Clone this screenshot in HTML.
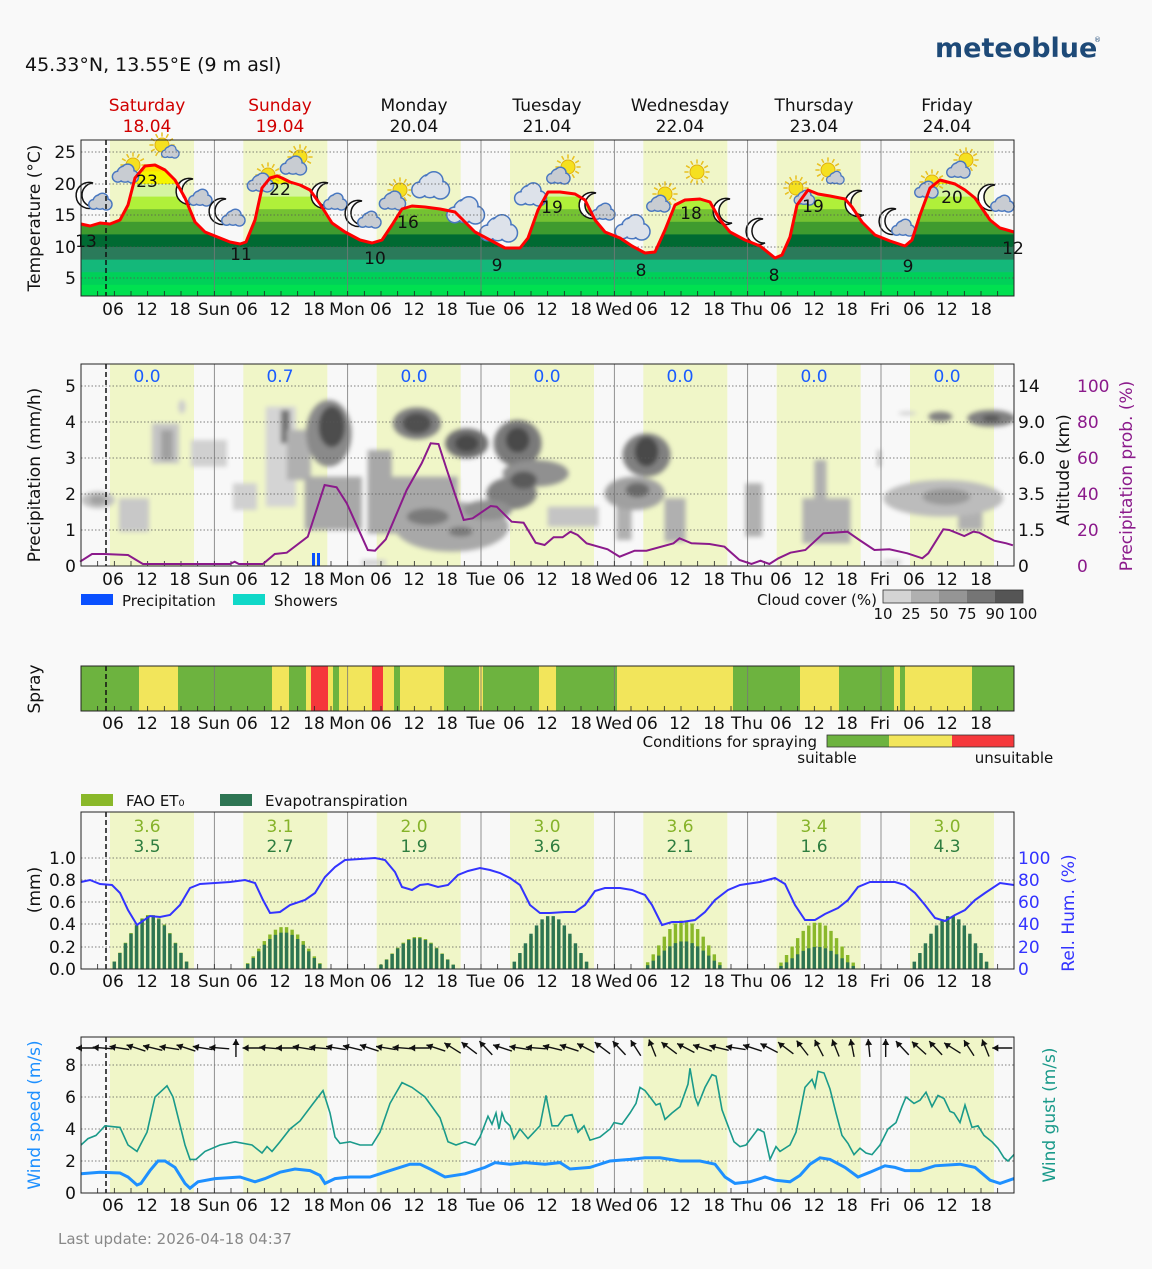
<!DOCTYPE html>
<html><head><meta charset="utf-8"><style>
html,body{margin:0;padding:0;background:#f9f9f9;}
svg{display:block;font-family:"DejaVu Sans","Liberation Sans",sans-serif;}
text{fill:#111;}
</style></head><body>
<svg id="s" width="1152" height="1269" viewBox="0 0 1152 1269" xmlns="http://www.w3.org/2000/svg">
<defs>
<filter id="bl" x="-20%" y="-20%" width="140%" height="140%"><feGaussianBlur stdDeviation="2.5"/></filter>
<clipPath id="tclip"><polygon id="tpoly" points=""/></clipPath>
<clipPath id="p2clip"><rect x="81" y="364" width="933" height="202"/></clipPath>
</defs>
<rect width="1152" height="1269" fill="#f9f9f9"/>
<text x="25" y="71" font-size="19">45.33°N, 13.55°E (9 m asl)</text>
<text x="935" y="57" font-size="27" font-weight="bold" style="fill:#1e4a78">meteoblue</text>
<text x="1094" y="42" font-size="7" style="fill:#1e4a78">®</text>
<g font-size="17" text-anchor="middle">
<text x="147" y="111" style="fill:#d00000">Saturday</text><text x="147" y="132" style="fill:#d00000">18.04</text>
<text x="280" y="111" style="fill:#d00000">Sunday</text><text x="280" y="132" style="fill:#d00000">19.04</text>
<text x="414" y="111">Monday</text><text x="414" y="132">20.04</text>
<text x="547" y="111">Tuesday</text><text x="547" y="132">21.04</text>
<text x="680" y="111">Wednesday</text><text x="680" y="132">22.04</text>
<text x="814" y="111">Thursday</text><text x="814" y="132">23.04</text>
<text x="947" y="111">Friday</text><text x="947" y="132">24.04</text>
</g>
<g id="bands"></g>
<g id="temp"></g>
<g id="icons"></g>
<g id="clouds" clip-path="url(#p2clip)"></g>
<g id="grid"></g>
<g id="series"></g>
<g font-size="17" text-anchor="middle">
<text x="86" y="247">13</text><text x="147" y="187">23</text><text x="241" y="260">11</text><text x="280" y="195">22</text>
<text x="375" y="264">10</text><text x="408" y="228">16</text><text x="497" y="271">9</text><text x="552" y="213">19</text>
<text x="641" y="276">8</text><text x="691" y="219">18</text><text x="774" y="281">8</text><text x="813" y="212">19</text>
<text x="908" y="272">9</text><text x="952" y="203">20</text><text x="1013" y="254">12</text>
</g>
<g font-size="17" text-anchor="end">
<text x="76" y="158">25</text><text x="76" y="190">20</text><text x="76" y="221">15</text><text x="76" y="253">10</text><text x="76" y="284">5</text>
<text x="76" y="572">0</text><text x="76" y="536">1</text><text x="76" y="500">2</text><text x="76" y="464">3</text><text x="76" y="428">4</text><text x="76" y="392">5</text>
<text x="76" y="975">0.0</text><text x="76" y="953">0.2</text><text x="76" y="930">0.4</text><text x="76" y="908">0.6</text><text x="76" y="886">0.8</text><text x="76" y="864">1.0</text>
<text x="76" y="1199">0</text><text x="76" y="1167">2</text><text x="76" y="1135">4</text><text x="76" y="1103">6</text><text x="76" y="1071">8</text>
</g>
<g font-size="17" text-anchor="start">
<text x="1018" y="392">14</text><text x="1018" y="428">9.0</text><text x="1018" y="464">6.0</text><text x="1018" y="500">3.5</text><text x="1018" y="536">1.5</text><text x="1018" y="572">0</text>
<text x="1077" y="392" style="fill:#8b1a8b">100</text><text x="1077" y="428" style="fill:#8b1a8b">80</text><text x="1077" y="464" style="fill:#8b1a8b">60</text><text x="1077" y="500" style="fill:#8b1a8b">40</text><text x="1077" y="536" style="fill:#8b1a8b">20</text><text x="1077" y="572" style="fill:#8b1a8b">0</text>
<text x="1018" y="864" style="fill:#3333ff">100</text><text x="1018" y="886" style="fill:#3333ff">80</text><text x="1018" y="908" style="fill:#3333ff">60</text><text x="1018" y="930" style="fill:#3333ff">40</text><text x="1018" y="953" style="fill:#3333ff">20</text><text x="1018" y="975" style="fill:#3333ff">0</text>
</g>
<g font-size="17" text-anchor="middle">
<text transform="translate(40,218) rotate(-90)">Temperature (°C)</text>
<text transform="translate(40,475) rotate(-90)">Precipitation (mm/h)</text>
<text transform="translate(1069,470) rotate(-90)">Altitude (km)</text>
<text transform="translate(1132,476) rotate(-90)" style="fill:#8b1a8b">Precipitation prob. (%)</text>
<text transform="translate(40,689) rotate(-90)">Spray</text>
<text transform="translate(40,890) rotate(-90)">(mm)</text>
<text transform="translate(1074,913) rotate(-90)" style="fill:#3333ff">Rel. Hum. (%)</text>
<text transform="translate(40,1115) rotate(-90)" style="fill:#1e90ff">Wind speed (m/s)</text>
<text transform="translate(1055,1115) rotate(-90)" style="fill:#1a9a8a">Wind gust (m/s)</text>
</g>
<g font-size="17" text-anchor="middle">
<text x="147" y="382" style="fill:#1a5cff">0.0</text><text x="280" y="382" style="fill:#1a5cff">0.7</text><text x="414" y="382" style="fill:#1a5cff">0.0</text><text x="547" y="382" style="fill:#1a5cff">0.0</text><text x="680" y="382" style="fill:#1a5cff">0.0</text><text x="814" y="382" style="fill:#1a5cff">0.0</text><text x="947" y="382" style="fill:#1a5cff">0.0</text>
</g>
<g font-size="17" text-anchor="middle">
<text x="147" y="832" style="fill:#86b32a">3.6</text><text x="280" y="832" style="fill:#86b32a">3.1</text><text x="414" y="832" style="fill:#86b32a">2.0</text><text x="547" y="832" style="fill:#86b32a">3.0</text><text x="680" y="832" style="fill:#86b32a">3.6</text><text x="814" y="832" style="fill:#86b32a">3.4</text><text x="947" y="832" style="fill:#86b32a">3.0</text>
<text x="147" y="852" style="fill:#2e7d3f">3.5</text><text x="280" y="852" style="fill:#2e7d3f">2.7</text><text x="414" y="852" style="fill:#2e7d3f">1.9</text><text x="547" y="852" style="fill:#2e7d3f">3.6</text><text x="680" y="852" style="fill:#2e7d3f">2.1</text><text x="814" y="852" style="fill:#2e7d3f">1.6</text><text x="947" y="852" style="fill:#2e7d3f">4.3</text>
</g>
<rect x="81" y="594" width="32" height="11" fill="#0a50ff"/><text x="122" y="606" font-size="15">Precipitation</text>
<rect x="233" y="594" width="32" height="11" fill="#10d8c8"/><text x="274" y="606" font-size="15">Showers</text>
<text x="877" y="605" font-size="15" text-anchor="end">Cloud cover (%)</text>
<rect x="883" y="590" width="28" height="13" fill="#d4d4d4"/><rect x="911" y="590" width="28" height="13" fill="#b0b0b0"/><rect x="939" y="590" width="28" height="13" fill="#959595"/><rect x="967" y="590" width="28" height="13" fill="#757575"/><rect x="995" y="590" width="28" height="13" fill="#555"/>
<rect x="883" y="590" width="140" height="13" fill="none" stroke="#333" stroke-width="0.8"/>
<g font-size="15" text-anchor="middle"><text x="883" y="619">10</text><text x="911" y="619">25</text><text x="939" y="619">50</text><text x="967" y="619">75</text><text x="995" y="619">90</text><text x="1023" y="619">100</text></g>
<text x="817" y="747" font-size="15" text-anchor="end">Conditions for spraying</text>
<rect x="827" y="735" width="62" height="12" fill="#6db33f"/><rect x="889" y="735" width="63" height="12" fill="#f2e55b"/><rect x="952" y="735" width="62" height="12" fill="#f5383b"/>
<rect x="827" y="735" width="187" height="12" fill="none" stroke="#333" stroke-width="0.8"/>
<text x="827" y="763" font-size="15" text-anchor="middle">suitable</text><text x="1014" y="763" font-size="15" text-anchor="middle">unsuitable</text>
<rect x="81" y="794" width="32" height="12" fill="#8ab82a"/><text x="126" y="806" font-size="15">FAO ET₀</text>
<rect x="220" y="794" width="32" height="12" fill="#2e7553"/><text x="265" y="806" font-size="15">Evapotranspiration</text>
<text x="58" y="1244" font-size="15" style="fill:#888">Last update: 2026-04-18 04:37</text>
<g id="xlabels" font-size="17" text-anchor="middle">
<g transform="translate(0,315)"><text x="113">06</text><text x="147">12</text><text x="180">18</text><text x="214">Sun</text><text x="247">06</text><text x="280">12</text><text x="314">18</text><text x="347">Mon</text><text x="381">06</text><text x="414">12</text><text x="447">18</text><text x="481">Tue</text><text x="514">06</text><text x="547">12</text><text x="581">18</text><text x="614">Wed</text><text x="647">06</text><text x="680">12</text><text x="714">18</text><text x="747">Thu</text><text x="781">06</text><text x="814">12</text><text x="847">18</text><text x="880">Fri</text><text x="914">06</text><text x="947">12</text><text x="981">18</text></g>
<g transform="translate(0,585)"><text x="113">06</text><text x="147">12</text><text x="180">18</text><text x="214">Sun</text><text x="247">06</text><text x="280">12</text><text x="314">18</text><text x="347">Mon</text><text x="381">06</text><text x="414">12</text><text x="447">18</text><text x="481">Tue</text><text x="514">06</text><text x="547">12</text><text x="581">18</text><text x="614">Wed</text><text x="647">06</text><text x="680">12</text><text x="714">18</text><text x="747">Thu</text><text x="781">06</text><text x="814">12</text><text x="847">18</text><text x="880">Fri</text><text x="914">06</text><text x="947">12</text><text x="981">18</text></g>
<g transform="translate(0,729)"><text x="113">06</text><text x="147">12</text><text x="180">18</text><text x="214">Sun</text><text x="247">06</text><text x="280">12</text><text x="314">18</text><text x="347">Mon</text><text x="381">06</text><text x="414">12</text><text x="447">18</text><text x="481">Tue</text><text x="514">06</text><text x="547">12</text><text x="581">18</text><text x="614">Wed</text><text x="647">06</text><text x="680">12</text><text x="714">18</text><text x="747">Thu</text><text x="781">06</text><text x="814">12</text><text x="847">18</text><text x="880">Fri</text><text x="914">06</text><text x="947">12</text><text x="981">18</text></g>
<g transform="translate(0,987)"><text x="113">06</text><text x="147">12</text><text x="180">18</text><text x="214">Sun</text><text x="247">06</text><text x="280">12</text><text x="314">18</text><text x="347">Mon</text><text x="381">06</text><text x="414">12</text><text x="447">18</text><text x="481">Tue</text><text x="514">06</text><text x="547">12</text><text x="581">18</text><text x="614">Wed</text><text x="647">06</text><text x="680">12</text><text x="714">18</text><text x="747">Thu</text><text x="781">06</text><text x="814">12</text><text x="847">18</text><text x="880">Fri</text><text x="914">06</text><text x="947">12</text><text x="981">18</text></g>
<g transform="translate(0,1211)"><text x="113">06</text><text x="147">12</text><text x="180">18</text><text x="214">Sun</text><text x="247">06</text><text x="280">12</text><text x="314">18</text><text x="347">Mon</text><text x="381">06</text><text x="414">12</text><text x="447">18</text><text x="481">Tue</text><text x="514">06</text><text x="547">12</text><text x="581">18</text><text x="614">Wed</text><text x="647">06</text><text x="680">12</text><text x="714">18</text><text x="747">Thu</text><text x="781">06</text><text x="814">12</text><text x="847">18</text><text x="880">Fri</text><text x="914">06</text><text x="947">12</text><text x="981">18</text></g>
</g>
</svg>
<script>
(function(){
var NS="http://www.w3.org/2000/svg";
function el(p,t,a){var e=document.createElementNS(NS,t);for(var k in a)e.setAttribute(k,a[k]);p.appendChild(e);return e;}
function G(id){return document.getElementById(id);}
function pth(pts){return pts.map(function(p,i){return (i?"L":"M")+p[0].toFixed(1)+","+p[1].toFixed(1);}).join("");}
var bands=G("bands"),grid=G("grid"),ser=G("series"),tmp=G("temp"),ic=G("icons"),cl=G("clouds");
var panels=[[140,296],[364,566],[666,711],[812,969],[1037,1193]];
var day0=81,dw=133.333;
panels.forEach(function(p,i){
  el(bands,"rect",{x:81,y:p[0],width:933,height:p[1]-p[0],fill:"#f8f8f8"});
  if(i!=2)for(var d=0;d<7;d++){el(bands,"rect",{x:day0+d*dw+29,y:p[0],width:84,height:p[1]-p[0],fill:"#f0f6c8"});}
});
var T=[[81,224],[90,226],[100,223],[110,224],[120,220],[128,205],[135,178],[145,166],[155,165],[165,170],[175,180],[185,198],[195,222],[205,232],[215,236],[230,242],[240,244],[246,242],[255,220],[262,188],[270,178],[277,176],[282,178],[290,182],[300,185],[310,190],[320,204],[332,223],[345,232],[360,240],[372,243],[382,240],[392,225],[402,209],[412,206],[425,207],[440,209],[455,212],[465,222],[475,232],[490,240],[505,248],[520,248],[528,238],[538,210],[548,192],[560,192],[575,194],[585,200],[595,220],[605,232],[620,238],[632,246],[645,253],[655,252],[665,230],[675,205],[685,200],[700,199],[710,202],[720,220],[730,232],[745,240],[760,246],[775,258],[782,255],[790,237],[797,205],[808,190],[818,194],[830,196],[845,199],[852,207],[862,222],[875,235],[890,241],[905,246],[912,240],[920,215],[930,188],[940,180],[955,184],[965,190],[975,198],[990,220],[1000,228],[1014,232]];
G("tpoly").setAttribute("points",T.map(function(p){return p.join(",");}).join(" ")+" 1014,296 81,296");
var cols=["#00e050","#00d058","#14b87a","#2a7a5a","#006a32","#3f9b2f","#74c232","#b0f03a","#d5f5a0","#f5f500","#ffe000"];
var tg=el(tmp,"g",{"clip-path":"url(#tclip)"});
for(var i=0;i<cols.length;i++){var t0=2+2*i;var y1=309.5-6.3*t0,y0=309.5-6.3*(t0+2);el(tg,"rect",{x:81,y:y0,width:933,height:y1-y0+0.5,fill:cols[i]});}
function hgrid(ys){ys.forEach(function(y){el(grid,"line",{x1:81,x2:1014,y1:y,y2:y,stroke:"#555","stroke-width":0.7,"stroke-dasharray":"1.5,2"});});}
hgrid([152,184,215,247,278]);hgrid([386,422,458,494,530]);hgrid([858,880,902,924,947]);hgrid([1065,1097,1129,1161]);
panels.forEach(function(p){
  for(var d=1;d<7;d++){var x=day0+d*dw;el(grid,"line",{x1:x,x2:x,y1:p[0],y2:p[1],stroke:"#777","stroke-width":0.8});}
  for(var h=3;h<168;h+=3){var x=day0+h*dw/24;el(grid,"line",{x1:x,x2:x,y1:p[1]-5,y2:p[1],stroke:"#222","stroke-width":0.8});}
  el(grid,"line",{x1:106,x2:106,y1:p[0],y2:p[1],stroke:"#111","stroke-width":1.5,"stroke-dasharray":"5,3"});
});
// clouds: zoom coords (sx=1.668, sy=3)
var SX=1/1.668,SY=1/3;
var cg=el(cl,"g",{filter:"url(#bl)"});
function zx(v){return 80+v*SX;} function zy(v){return 380+v*SY;}
var E=[[30,360,28,25,"#c0c0c0"],[30,360,14,14,"#a0a0a0"],[620,440,95,75,"#a8a8a8"],[580,410,35,25,"#7a7a7a"],[635,455,20,15,"#7a7a7a"],[562,130,40,48,"#808080"],[562,130,24,32,"#505050"],[645,190,36,45,"#707070"],[645,190,20,26,"#4a4a4a"],[730,190,40,70,"#7a7a7a"],[730,180,20,38,"#4a4a4a"],[760,280,55,40,"#909090"],[720,340,42,48,"#808080"],[680,390,40,30,"#909090"],[740,300,22,26,"#5a5a5a"],[945,225,40,65,"#808080"],[945,215,20,45,"#4a4a4a"],[925,340,50,50,"#a0a0a0"],[930,330,20,22,"#6a6a6a"],[1440,355,100,55,"#bcbcbc"],[1445,350,40,25,"#9a9a9a"],[1435,110,20,15,"#808080"],[1520,115,40,25,"#808080"],[1520,115,15,10,"#555"],[415,160,38,100,"#8a8a8a"],[420,140,22,62,"#4e4e4e"],[1380,100,15,5,"#cccccc"],[170,80,6,20,"#cccccc"]];
var R=[[65,355,50,100,"#c8c8c8"],[120,130,45,120,"#c4c4c4"],[135,150,20,90,"#a0a0a0"],[185,180,60,80,"#d0d0d0"],[310,80,50,300,"#d4d4d4"],[335,90,15,100,"#757575"],[345,150,40,150,"#b0b0b0"],[375,290,95,160,"#a8a8a8"],[480,210,40,250,"#a8a8a8"],[480,290,150,170,"#a8a8a8"],[780,380,85,60,"#c4c4c4"],[895,380,25,100,"#b0b0b0"],[975,355,35,130,"#b0b0b0"],[1110,310,28,160,"#b0b0b0"],[1225,240,20,130,"#b0b0b0"],[1205,355,80,135,"#b0b0b0"],[1465,380,40,70,"#b0b0b0"],[1330,210,6,50,"#bbbbbb"],[255,310,40,80,"#d0d0d0"],[470,540,40,15,"#cccccc"],[1340,540,30,12,"#cccccc"]];
R.forEach(function(r){el(cg,"rect",{x:zx(r[0]),y:zy(r[1]),width:r[2]*SX,height:r[3]*SY,fill:r[4]});});
E.forEach(function(e){el(cg,"ellipse",{cx:zx(e[0]),cy:zy(e[1]),rx:e[2]*SX,ry:e[3]*SY,fill:e[4]});});
el(ser,"rect",{x:312,y:553,width:3,height:13,fill:"#0a50ff"});el(ser,"rect",{x:317,y:553,width:3,height:13,fill:"#0a50ff"});
var P=[[0,545],[20,522],[40,522],[80,525],[105,552],[250,552],[258,545],[265,552],[305,552],[325,522],[345,518],[380,470],[408,315],[428,322],[445,370],[460,430],[480,510],[492,512],[510,478],[545,330],[570,250],[585,190],[598,192],[612,270],[625,340],[640,420],[655,415],[685,378],[695,380],[720,425],[740,428],[760,488],[775,495],[790,472],[805,472],[818,455],[830,465],[845,490],[880,508],[900,530],[925,512],[945,512],[990,490],[1000,475],[1020,490],[1050,492],[1075,500],[1100,540],[1120,552],[1135,542],[1150,552],[1165,535],[1185,518],[1210,510],[1240,460],[1255,458],[1280,455],[1300,480],[1325,510],[1350,508],[1380,520],[1405,535],[1415,520],[1440,448],[1450,450],[1475,468],[1490,455],[1500,458],[1525,482],[1545,490],[1556,496]].map(function(p){return [zx(p[0]),zy(p[1])];});
el(ser,"path",{d:pth(P),fill:"none",stroke:"#8b1a8b","stroke-width":2});
el(ser,"path",{d:pth(T),fill:"none",stroke:"#ff0000","stroke-width":3,"stroke-linejoin":"round"});
var S=[[81,139,"G"],[139,178,"Y"],[178,272,"G"],[272,289,"Y"],[289,306,"G"],[306,311,"Y"],[311,328,"R"],[328,333,"Y"],[333,339,"G"],[339,372,"Y"],[372,383,"R"],[383,394,"Y"],[394,400,"G"],[400,444,"Y"],[444,479,"G"],[479,483,"Y"],[483,539,"G"],[539,556,"Y"],[556,617,"G"],[617,733,"Y"],[733,800,"G"],[800,839,"Y"],[839,894,"G"],[894,900,"Y"],[900,905,"G"],[905,972,"Y"],[972,1014,"G"]];
var sc={G:"#6db33f",Y:"#f2e55b",R:"#f5383b"};
S.forEach(function(s){el(bands,"rect",{x:s[0],y:666,width:s[1]-s[0]+0.3,height:45,fill:sc[s[2]]});});
var ev=[0.48,0.33,0.28,0.48,0.25,0.2,0.48],fa=[0.49,0.38,0.29,0.45,0.44,0.42,0.45];
for(var d=0;d<7;d++)for(var h=4;h<22;h++){
  var f=Math.sin(Math.PI*(h-4.5)/16);if(f<=0)continue;f=Math.pow(f,1.6);
  var x=day0+d*dw+h*dw/24-1.7;
  var hf=fa[d]*f*111,he=ev[d]*f*111;
  if(h<6||h>19){hf*=0.3;he*=0.3;}
  el(ser,"rect",{x:x,y:969-hf,width:3.4,height:hf,fill:"#8ab82a"});
  el(ser,"rect",{x:x,y:969-he,width:3.4,height:he,fill:"#2e7553"});
}
var H=[[81,882],[90,880],[100,884],[112,885],[120,893],[128,910],[137,925],[150,916],[160,917],[170,915],[180,905],[190,888],[200,884],[215,883],[230,882],[245,880],[255,883],[263,900],[270,913],[280,912],[290,905],[305,900],[315,893],[325,877],[335,867],[345,860],[360,859],[375,858],[385,860],[395,872],[402,887],[412,890],[420,885],[428,884],[438,887],[448,885],[458,875],[468,871],[480,868],[490,870],[500,873],[510,878],[520,885],[530,905],[540,913],[550,913],[565,912],[575,912],[585,905],[595,891],[605,888],[620,888],[632,890],[645,895],[652,905],[662,925],[672,922],[682,922],[695,920],[705,912],[715,900],[728,890],[740,885],[760,882],[775,878],[785,884],[795,905],[805,920],[815,920],[825,914],[838,908],[848,900],[858,887],[870,882],[895,882],[905,885],[915,893],[925,905],[935,918],[945,921],[955,915],[965,910],[975,900],[985,893],[1000,883],[1014,885]];
el(ser,"path",{d:pth(H),fill:"none",stroke:"#3333ff","stroke-width":2});
function wy(v){return 1193-16*v;}
var W=[[81,1.2],[100,1.3],[120,1.25],[128,1.0],[137,0.5],[141,0.6],[150,1.4],[158,2.0],[165,2.0],[175,1.6],[185,0.6],[190,0.3],[198,0.7],[215,0.9],[240,1.0],[255,0.7],[265,0.9],[280,1.3],[295,1.5],[310,1.4],[320,1.1],[325,0.6],[335,0.9],[350,1.0],[370,1.0],[390,1.4],[410,1.8],[420,1.8],[430,1.5],[445,1.0],[465,1.2],[485,1.6],[495,1.9],[510,1.8],[525,1.9],[545,1.8],[560,1.9],[570,1.5],[590,1.6],[610,2.0],[630,2.1],[645,2.2],[660,2.2],[680,2.0],[700,2.0],[715,1.8],[725,1.0],[735,0.6],[750,0.7],[765,1.0],[775,0.8],[790,0.7],[800,1.1],[810,1.8],[820,2.2],[830,2.1],[845,1.6],[858,1.0],[870,1.3],[885,1.7],[895,1.6],[905,1.4],[920,1.4],[935,1.7],[960,1.8],[975,1.6],[990,0.8],[1000,0.6],[1014,0.9]];
var Gu=[[81,3.0],[88,3.4],[96,3.6],[105,4.2],[120,4.1],[128,3.0],[137,2.6],[147,3.8],[155,6.0],[167,6.7],[173,6.0],[185,3.0],[190,2.1],[196,2.1],[205,2.6],[220,3.0],[235,3.2],[252,3.0],[262,2.5],[267,2.9],[272,2.6],[280,3.2],[290,4.0],[300,4.5],[312,5.5],[323,6.4],[330,5.0],[335,3.5],[340,3.1],[350,3.2],[360,3.0],[372,3.0],[380,3.8],[390,5.6],[402,6.9],[412,6.6],[425,6.0],[440,4.7],[448,3.2],[456,3.0],[465,3.2],[475,3.0],[480,3.5],[488,4.8],[492,4.3],[496,5.0],[499,4.0],[502,5.0],[505,4.5],[510,4.2],[514,3.4],[520,4.0],[528,3.4],[534,3.8],[540,4.2],[546,6.1],[552,4.2],[558,4.2],[565,4.8],[572,4.9],[578,3.8],[584,4.2],[590,3.3],[600,3.5],[610,4.0],[614,4.4],[622,4.3],[630,5.0],[636,5.6],[640,6.6],[645,6.4],[650,6.0],[656,5.5],[660,5.6],[665,4.6],[672,5.0],[680,5.4],[688,6.8],[690,7.8],[695,6.0],[698,5.5],[705,6.6],[712,7.4],[716,7.3],[722,5.2],[728,4.2],[734,3.2],[740,2.9],[746,3.0],[752,3.5],[758,4.0],[764,3.8],[770,2.1],[776,2.9],[780,2.6],[790,3.0],[796,3.8],[800,5.0],[805,6.6],[812,7.1],[815,6.6],[818,7.6],[824,7.5],[830,6.5],[836,5.0],[842,3.6],[848,3.1],[854,2.4],[860,2.8],[866,2.5],[872,2.4],[880,3.0],[888,4.0],[896,4.4],[902,5.4],[906,6.0],[914,5.6],[920,5.8],[926,6.3],[932,5.4],[938,6.1],[944,5.9],[950,5.1],[954,5.0],[960,4.4],[965,5.5],[972,4.1],[978,4.2],[984,3.6],[992,3.2],[998,2.8],[1004,2.2],[1008,2.0],[1014,2.4]];
el(ser,"path",{d:pth(Gu.map(function(p){return [p[0],wy(p[1])];})),fill:"none",stroke:"#1a9a8a","stroke-width":1.6});
el(ser,"path",{d:pth(W.map(function(p){return [p[0],wy(p[1])];})),fill:"none",stroke:"#1e90ff","stroke-width":3});
// wind arrows (direction pointing to), degrees: 180=left
var ang=[180,185,190,200,195,190,200,190,185,270,180,185,180,190,185,190,195,200,190,185,180,200,215,220,230,200,190,185,195,200,210,220,230,240,250,220,210,200,195,190,200,210,220,235,245,250,260,265,270,230,225,230,215,240,250,180];
for(var k=0;k<56;k++){var x=86+k*16.66,a=ang[k]*Math.PI/180;var dx=Math.cos(a)*10,dy=Math.sin(a)*9;
 var x2=x+dx,y2=1048+dy,x1=x-dx,y1=1048-dy;
 el(ser,"line",{x1:x1,y1:y1,x2:x2,y2:y2,stroke:"#111","stroke-width":1.4});
 var ux=Math.cos(a),uy=Math.sin(a);
 el(ser,"polygon",{points:x2+","+y2+" "+(x2-ux*6-uy*3.5)+","+(y2-uy*6+ux*3.5)+" "+(x2-ux*6+uy*3.5)+","+(y2-uy*6-ux*3.5),fill:"#111"});}
panels.forEach(function(p){el(ser,"rect",{x:81,y:p[0],width:933,height:p[1]-p[0],fill:"none",stroke:"#222","stroke-width":1});});
function sun(x,y,r){var g=el(ic,"g",{});for(var i=0;i<12;i++){var a=i*Math.PI/6;el(g,"line",{x1:x+Math.cos(a)*r*1.2,y1:y+Math.sin(a)*r*1.2,x2:x+Math.cos(a)*r*1.8,y2:y+Math.sin(a)*r*1.8,stroke:"#e8c020","stroke-width":1.5});}el(g,"circle",{cx:x,cy:y,r:r,fill:"#f5e020",stroke:"#e0b010"});}
function cloud(x,y,s,c){var g=el(ic,"g",{});[[0,0,9],[-8,3,6],[8,3,7],[3,-4,7]].forEach(function(q){el(g,"circle",{cx:x+q[0]*s,cy:y+q[1]*s,r:q[2]*s,fill:c||"#ccd0d8",stroke:"#4a78c0","stroke-width":1.5});});[[0,0,8],[-8,3,5],[8,3,6],[3,-4,6]].forEach(function(q){el(g,"circle",{cx:x+q[0]*s,cy:y+q[1]*s,r:q[2]*s,fill:c||"#ccd0d8"});});}
function moon(x,y){el(ic,"path",{d:"M"+(x+4)+","+(y-13)+" A13,13 0 1,0 "+(x+6)+","+(y+11)+" A10,10 0 1,1 "+(x+4)+","+(y-13)+"Z",fill:"#fff",stroke:"#111","stroke-width":1.5});}
[[95,196,1],[195,192,1],[228,212,1],[330,196,1],[364,214,1],[598,206,1],[732,212,0],[765,232,0],[864,204,0],[898,222,1],[997,198,1]].forEach(function(m){moon(m[0]-6,m[1]);if(m[2])cloud(m[0]+5,m[1]+6,0.8,"#c8ccd2");});
[[133,165],[162,145],[268,175],[300,157],[400,190],[568,167],[665,194],[697,172],[796,188],[828,170],[932,182],[966,160]].forEach(function(s){sun(s[0],s[1],7);});
[[125,174,0.9],[170,152,0.6],[260,183,0.9],[293,166,0.9],[392,201,0.9],[430,186,1.3],[465,211,1.3],[498,229,1.3],[530,195,1.1],[558,176,0.8],[632,228,1.2],[658,204,0.8],[804,198,0.7],[835,178,0.6],[926,190,0.8],[958,170,0.8]].forEach(function(c){cloud(c[0],c[1],c[2],c[2]>1?"#dde2ea":"#c8ccd2");});
})();
</script>
</body></html>
